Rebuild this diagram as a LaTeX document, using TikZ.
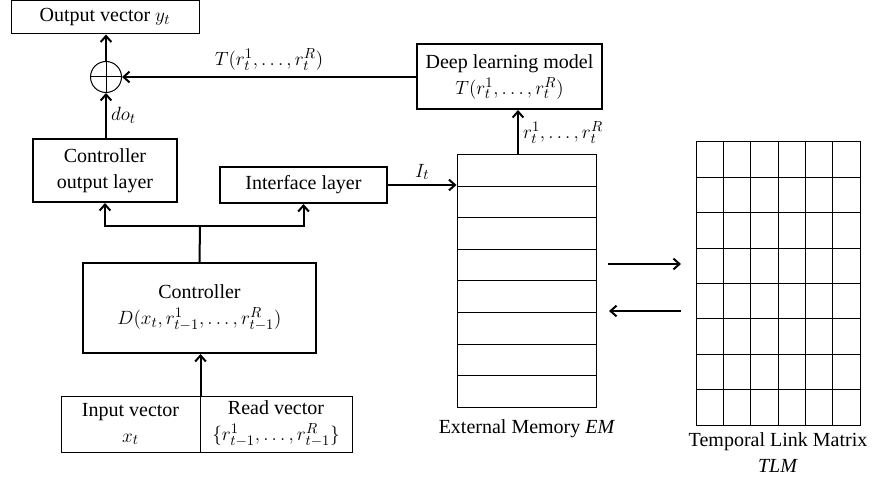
\documentclass[tikz,border=0pt]{standalone}
\usepackage{fontspec}
\setmainfont{Liberation Serif}
\usetikzlibrary{arrows.meta}

\tikzset{every picture/.style={line width=0.75pt}}
\tikzset{
  txt/.style={inner sep=1pt, align=center, font=\fontsize{15}{19.5}\selectfont},
  thinbox/.style={txt, draw, line width=0.75pt},
  thickbox/.style={txt, draw, line width=1.5pt},
  link/.style={line width=1.5pt},
  arr/.style={link, -{Straight Barb[length=4.5pt,width=8pt]}},
}

\begin{document}
\begin{tikzpicture}[x=0.75pt,y=0.75pt,yscale=-1,xscale=1]
\useasboundingbox (0,0) rectangle (877,484);

%Shape: Rectangle [output]
\node [thinbox, minimum width=141pt, minimum height=24.75pt] (out) at (105,17.5) {Output vector $y_t$};
%Shape: Circle [sum]
\node [circle, draw, line width=0.75pt, minimum size=23.25pt, inner sep=0pt] (sum) at (106,77) {};
\draw (sum.north) -- (sum.south) (sum.west) -- (sum.east);
%Shape: Rectangle [deep model]
\node [thickbox, minimum width=138.75pt, minimum height=48.75pt] (deep) at (509.5,76.5) {Deep learning model\\$T(r_t^1, \ldots, r_t^R)$};
%Shape: Rectangle [controller output]
\node [thickbox, minimum width=108pt, minimum height=47.25pt] (col) at (105,170.5) {Controller\\output layer};
%Shape: Rectangle [interface]
\node [thickbox, minimum width=125.25pt, minimum height=27pt] (intf) at (303.5,185) {Interface layer};
%Shape: Rectangle [controller]
\node [thickbox, minimum width=174.75pt, minimum height=67.5pt] (ctrl) at (199.5,308) {Controller\\$D(x_t, r_{t-1}^1, \ldots, r_{t-1}^R)$};
%Shape: Rectangle [input / read]
\node [thinbox, minimum width=104.25pt, minimum height=42pt] (inp) at (130.5,424) {Input vector\\$x_t$};
\node [thinbox, minimum width=114pt, minimum height=42pt] (rd) at (276,424) {Read vector\\$\{r_{t-1}^1, \ldots, r_{t-1}^R\}$};

%Shape: Rectangle [external memory]
\node [draw, line width=0.75pt, minimum width=104.25pt, minimum height=189pt, inner sep=0pt] (em) at (526.5,281) {};
\foreach \i in {1,...,7}
  \draw (457,{155+31.5*\i}) -- (596,{155+31.5*\i});
%Shape: Grid [temporal link matrix]
\node [draw, line width=0.75pt, minimum width=123pt, minimum height=212.25pt, inner sep=0pt] (tlm) at (778,283.5) {};
\foreach \i in {1,...,5}
  \draw ({696+164/6*\i},142) -- ({696+164/6*\i},425);
\foreach \j in {1,...,7}
  \draw (696,{142+35.375*\j}) -- (860,{142+35.375*\j});

% Text Node
\node [txt, below=8pt] (emlbl) at (em.south) {External Memory $\mathit{EM}$};
% Text Node
\node [txt, below=4pt] (tlmlbl) at (tlm.south) {Temporal Link Matrix\\\textit{TLM}};

\coordinate (br) at (200,226);
\coordinate (emout) at (518,155);
\coordinate (a1) at (608,264);
\coordinate (a2) at (681,264);
\coordinate (b1) at (681,311);
\coordinate (b2) at (609,311);

%Lines
\draw [arr] (sum) -- (sum |- out.south);
\draw [arr] (deep.west |- sum) -- node [txt, above=3pt] {$T(r_t^1, \ldots, r_t^R)$} (sum.east);
\draw [arr] (sum |- col.north) -- node [txt, right=2pt] {$do_t$} (sum.south);
\draw [link] (ctrl.north) -- (br);
\draw [arr] (br) -| (col.south);
\draw [arr] (br) -| (intf.south);
\draw [arr] (inp.north east) -- (inp.north east |- ctrl.south);
\draw [arr] (intf.east) -- node [txt, above=2pt] {$I_t$} (em.west |- intf.east);
\draw [arr] (emout) -- node [txt, right=2pt] {$r_t^1, \ldots, r_t^R$} (emout |- deep.south);
\draw [arr] (a1) -- (a2);
\draw [arr] (b1) -- (b2);
\end{tikzpicture}
\end{document}
